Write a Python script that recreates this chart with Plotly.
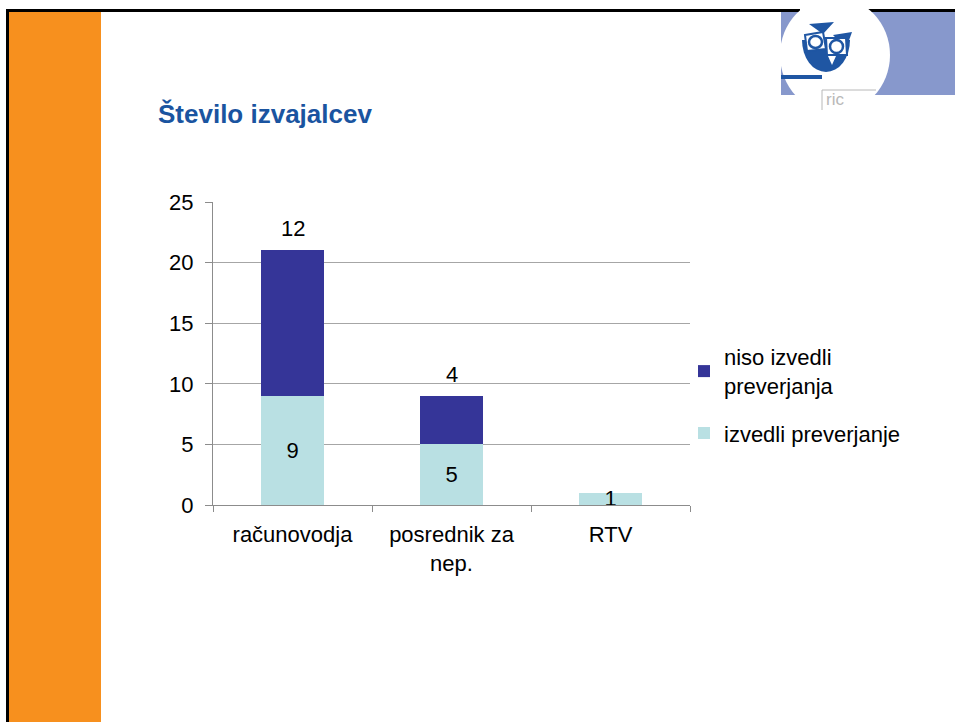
import plotly.graph_objects as go

# ---- data ----
categories = ["računovodja", "posrednik za nep.", "RTV"]
tick_labels = ["računovodja", "posrednik za<br>nep.", "RTV"]
izvedli = [9, 5, 1]          # izvedli preverjanje
niso = [12, 4, 0]            # niso izvedli preverjanja
series_names = ["izvedli preverjanje", "niso izvedli<br>preverjanja"]
y_ticks = [0, 5, 10, 15, 20, 25]

# ---- layout geometry (pixels) ----
W, H = 955, 722
L, R, T, B = 213, 690, 202, 505

def px(x):
    return (x - L) / (R - L)

def py(y):
    return (B - y) / (B - T)

FONT = "Arial, Liberation Sans, sans-serif"
DARK = "#353598"
LIGHT = "#b9e0e3"
LOGO_BLUE = "#1f56a3"

fig = go.Figure()
fig.add_trace(go.Bar(
    x=categories, y=izvedli, name=series_names[0],
    marker=dict(color=LIGHT, line=dict(width=0)),
    text=[str(v) if v else "" for v in izvedli],
    textposition="inside", insidetextanchor="middle", constraintext="none", textangle=0,
    textfont=dict(family=FONT, size=22, color="#000000"),
    width=0.4, legendgroup="a", legendrank=2,
))
fig.add_trace(go.Bar(
    x=categories, y=niso, name=series_names[1],
    marker=dict(color=DARK, line=dict(width=0)),
    width=0.4, legendgroup="b", legendrank=1,
))

# labels on top of stacks for the upper series
annotations = []
for c, a, b in zip(categories, izvedli, niso):
    if b:
        annotations.append(dict(
            x=c, y=a + b, xref="x", yref="y", text=str(b), showarrow=False,
            yanchor="bottom", yshift=7,
            font=dict(family=FONT, size=22, color="#000000"),
        ))

# title
annotations.append(dict(
    x=px(156), y=py(114), xref="paper", yref="paper", xanchor="left", yanchor="middle",
    text="<b>Število izvajalcev</b>", showarrow=False,
    font=dict(family=FONT, size=26, color="#1a54a0"),
))
# logo text
annotations.append(dict(
    x=px(824), y=py(100), xref="paper", yref="paper", xanchor="left", yanchor="middle",
    text="ric", showarrow=False,
    font=dict(family=FONT, size=17, color="#b8b8b8"),
))

def rect(x0, y0, x1, y1, color, layer="below"):
    return dict(type="rect", xref="paper", yref="paper",
                x0=px(x0), x1=px(x1), y0=py(y1), y1=py(y0),
                fillcolor=color, line=dict(width=0), layer=layer)

def ellipse(x0, y0, x1, y1, fill, line_color=None, lw=0, layer="below"):
    return dict(type="circle", xref="paper", yref="paper",
                x0=px(x0), x1=px(x1), y0=py(y1), y1=py(y0),
                fillcolor=fill, line=dict(width=lw, color=line_color or fill), layer=layer)

def path(points, fill, layer="below", line_color=None, lw=0):
    d = "M " + " L ".join(f"{px(x):.5f},{py(y):.5f}" for x, y in points) + " Z"
    return dict(type="path", xref="paper", yref="paper", path=d,
                fillcolor=fill, line=dict(width=lw, color=line_color or fill), layer=layer)

shapes = [
    rect(9, 12, 101, H, "#f7901e"),
    rect(6, 9, W, 12, "#000000"),
    rect(6, 9, 9, H, "#000000"),
    rect(781, 12, W, 95, "#8798cc"),
    ellipse(780, -3, 890, 113, "#ffffff"),
    rect(781, 95, W, 125, "#ffffff"),
    # owl body (bowl)
    ellipse(802, 8, 850, 72, LOGO_BLUE),
    rect(800, 6, 852, 40, "#ffffff"),
    # brows / ear tufts
    path([(809, 24), (834, 22), (823, 34)], LOGO_BLUE),
    path([(833, 35), (852, 32), (846, 49)], LOGO_BLUE),
    # glasses
    path([(805, 35), (823, 32), (826, 49), (807, 51)], "#ffffff", line_color=LOGO_BLUE, lw=2),
    path([(826, 38), (846, 38), (847, 55), (827, 55)], "#ffffff", line_color=LOGO_BLUE, lw=2),
    ellipse(809, 36, 822, 48, "#ffffff", LOGO_BLUE, 2.5),
    ellipse(830, 40, 843, 53, "#ffffff", LOGO_BLUE, 2.5),
    # beak
    path([(828, 56), (836, 56), (832, 65)], "#ffffff"),
    rect(781, 75, 822, 79, LOGO_BLUE),
    dict(type="line", xref="paper", yref="paper", x0=px(822), x1=px(876), y0=py(90), y1=py(90),
         line=dict(color="#b8b8b8", width=1)),
    dict(type="line", xref="paper", yref="paper", x0=px(822), x1=px(822), y0=py(90), y1=py(110),
         line=dict(color="#b8b8b8", width=1)),
]

fig.update_layout(
    width=W, height=H,
    margin=dict(l=L, r=W - R, t=T, b=H - B, pad=0),
    barmode="stack",
    paper_bgcolor="#ffffff",
    plot_bgcolor="rgba(0,0,0,0)",
    font=dict(family=FONT, size=22, color="#000000"),
    showlegend=True,
    legend=dict(
        x=px(684), y=py(336), xanchor="left", yanchor="top",
        traceorder="grouped", tracegroupgap=16,
        font=dict(family=FONT, size=22, color="#000000"),
        bgcolor="rgba(0,0,0,0)", itemclick=False,
    ),
    xaxis=dict(
        type="category", tickvals=categories, ticktext=tick_labels,
        showgrid=False, showline=True, linecolor="#8c8c8c", linewidth=1,
        ticks="outside", ticklen=6, tickcolor="#8c8c8c", tickson="boundaries",
        ticklabelstandoff=10,
        tickfont=dict(family=FONT, size=22, color="#000000"),
        range=[-0.5, 2.5], fixedrange=True,
    ),
    yaxis=dict(
        range=[0, 25], tickvals=y_ticks, showgrid=True, gridcolor="#a6a6a6", gridwidth=1,
        showline=True, linecolor="#8c8c8c", linewidth=1, zeroline=False,
        ticks="outside", ticklen=7, tickcolor="#8c8c8c", ticklabelstandoff=7,
        tickfont=dict(family=FONT, size=22, color="#000000"),
        fixedrange=True,
    ),
    annotations=annotations,
    shapes=shapes,
)

fig.write_html(
    "out.html",
    config={"displayModeBar": False},
    post_script="document.body.style.margin='0';document.body.style.padding='0';"
                "document.documentElement.style.overflow='hidden';",
)
